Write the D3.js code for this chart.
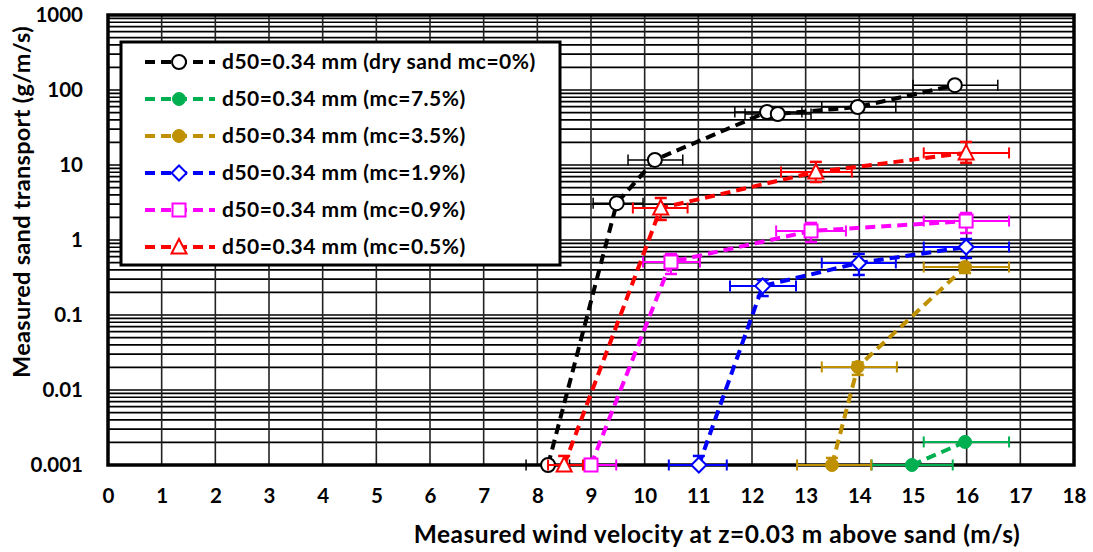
<!DOCTYPE html>
<html>
<head>
<meta charset="utf-8">
<script src="https://cdn.jsdelivr.net/npm/d3@7"></script>
<style>
  html, body { margin: 0; padding: 0; background: #fff; }
  svg { display: block; font-family: Lato, "Open Sans", sans-serif; font-weight: bold; }
</style>
</head>
<body>
<svg id="chart" width="1093" height="552"></svg>
<script>
// Axis ticks
const xTickValues = [0,1,2,3,4,5,6,7,8,9,10,11,12,13,14,15,16,17,18];
const yTickValues = [0.001, 0.01, 0.1, 1, 10, 100, 1000];
const yTickLabels = ["0.001", "0.01", "0.1", "1", "10", "100", "1000"];

// Series names
const seriesNames = [
  "d50=0.34 mm (dry sand mc=0%)",
  "d50=0.34 mm (mc=7.5%)",
  "d50=0.34 mm (mc=3.5%)",
  "d50=0.34 mm (mc=1.9%)",
  "d50=0.34 mm (mc=0.9%)",
  "d50=0.34 mm (mc=0.5%)"
];

// Dry sand, mc = 0%
const dryU    = [8.2, 9.48, 10.19, 12.28, 12.48, 13.97, 15.78];
const dryQ    = [0.001, 3.1, 11.7, 50.9, 47.9, 59.3, 116];
const dryULo  = [7.79, 9.04, 9.69, 11.68, 11.87, 13.3, 15.0];
const dryUHi  = [8.6, 9.97, 10.71, 12.93, 13.1, 14.68, 16.58];
const dryQLo  = [0.001, 3.1, 11.7, 50.9, 47.9, 59.3, 116];
const dryQHi  = [0.001, 3.1, 11.7, 50.9, 47.9, 59.3, 116];

// mc = 7.5%
const mc75U   = [14.98, 15.97];
const mc75Q   = [0.001, 0.00203];
const mc75ULo = [14.23, 15.2];
const mc75UHi = [15.74, 16.79];
const mc75QLo = [0.001, 0.00203];
const mc75QHi = [0.001, 0.00203];

// mc = 3.5%
const mc35U   = [13.49, 13.97, 15.97];
const mc35Q   = [0.001, 0.0203, 0.436];
const mc35ULo = [12.84, 13.3, 15.2];
const mc35UHi = [14.22, 14.7, 16.79];
const mc35QLo = [0.001, 0.0159, 0.363];
const mc35QHi = [0.00124, 0.0233, 0.48];

// mc = 1.9%
const mc19U   = [11.01, 12.2, 13.99, 15.99];
const mc19Q   = [0.001, 0.244, 0.494, 0.807];
const mc19ULo = [10.45, 11.59, 13.3, 15.2];
const mc19UHi = [11.53, 12.82, 14.68, 16.79];
const mc19QLo = [0.001, 0.179, 0.342, 0.576];
const mc19QHi = [0.00132, 0.293, 0.652, 1.03];

// mc = 0.9%
const mc09U   = [9.0, 10.49, 13.1, 15.99];
const mc09Q   = [0.001, 0.509, 1.32, 1.79];
const mc09ULo = [8.53, 9.97, 12.45, 15.2];
const mc09UHi = [9.47, 11.03, 13.75, 16.79];
const mc09QLo = [0.001, 0.352, 0.94, 1.24];
const mc09QHi = [0.0012, 0.65, 1.69, 2.29];

// mc = 0.5%
const mc05U   = [8.5, 10.3, 13.19, 15.99];
const mc05Q   = [0.001, 2.67, 8.07, 14.5];
const mc05ULo = [8.2, 9.78, 12.54, 15.2];
const mc05UHi = [8.85, 10.8, 13.86, 16.79];
const mc05QLo = [0.001, 1.85, 5.93, 10.7];
const mc05QHi = [0.00132, 3.63, 11.0, 20.3];

const xTitle = "Measured wind velocity at z=0.03 m above sand (m/s)";
const yTitle = "Measured sand transport (g/m/s)";

// ---- build series table ----
function pts(u, q, uLo, uHi, qLo, qHi) {
  return u.map((v, i) => ({ u: v, q: q[i], uLo: uLo[i], uHi: uHi[i], qLo: qLo[i], qHi: qHi[i] }));
}
const series = [
  { name: seriesNames[0], color: "#000000", marker: "circleOpen",  errW: 1.5, data: pts(dryU, dryQ, dryULo, dryUHi, dryQLo, dryQHi) },
  { name: seriesNames[1], color: "#00b050", marker: "circleFill",  errW: 2,   data: pts(mc75U, mc75Q, mc75ULo, mc75UHi, mc75QLo, mc75QHi) },
  { name: seriesNames[2], color: "#bf9000", marker: "circleFill",  errW: 2,   data: pts(mc35U, mc35Q, mc35ULo, mc35UHi, mc35QLo, mc35QHi) },
  { name: seriesNames[3], color: "#0000ff", marker: "diamond",     errW: 2,   data: pts(mc19U, mc19Q, mc19ULo, mc19UHi, mc19QLo, mc19QHi) },
  { name: seriesNames[4], color: "#ff00ff", marker: "square",      errW: 2,   data: pts(mc09U, mc09Q, mc09ULo, mc09UHi, mc09QLo, mc09QHi) },
  { name: seriesNames[5], color: "#ff0000", marker: "triangle",    errW: 2,   data: pts(mc05U, mc05Q, mc05ULo, mc05UHi, mc05QLo, mc05QHi) }
];

// ---- layout ----
const plot = { left: 108, right: 1074, top: 15, bottom: 465 };
const svg = d3.select("#chart");

const x = d3.scaleLinear().domain([0, 18]).range([plot.left, plot.right]);
const y = d3.scaleLog().domain([0.001, 1000]).range([plot.bottom, plot.top]);

// ---- grid ----
const grid = svg.append("g");
const minorY = [];
for (let e = -3; e < 3; e++) {
  for (let k = 1; k <= 9; k++) minorY.push(k * Math.pow(10, e));
}
minorY.push(1000);
grid.selectAll("line.h").data(minorY).join("line")
  .attr("x1", plot.left).attr("x2", plot.right)
  .attr("y1", d => y(d)).attr("y2", d => y(d))
  .attr("stroke", "#000").attr("stroke-width", 1.7);
grid.selectAll("line.v").data(xTickValues).join("line")
  .attr("x1", d => x(d)).attr("x2", d => x(d))
  .attr("y1", plot.top).attr("y2", plot.bottom)
  .attr("stroke", "#222").attr("stroke-width", 1.6);

// ---- axes labels ----
const xAxis = d3.axisBottom(x).tickValues(xTickValues).tickFormat(d3.format("d")).tickSize(0).tickPadding(23);
const gx = svg.append("g").attr("transform", `translate(0,${plot.bottom})`).call(xAxis);
gx.select(".domain").remove();
gx.selectAll("text").attr("font-size", 20.5).attr("font-family", "Lato").attr("font-weight", "bold").attr("fill", "#000");

const yAxis = d3.axisLeft(y).tickValues(yTickValues).tickFormat((d, i) => yTickLabels[i]).tickSize(0).tickPadding(25);
const gy = svg.append("g").attr("transform", `translate(${plot.left},0)`).call(yAxis);
gy.select(".domain").remove();
gy.selectAll("text").attr("font-size", 20.5).attr("font-family", "Lato").attr("font-weight", "bold").attr("fill", "#000");

// ---- plot frame ----
svg.append("rect")
  .attr("x", plot.left).attr("y", plot.top)
  .attr("width", plot.right - plot.left).attr("height", plot.bottom - plot.top)
  .attr("fill", "none").attr("stroke", "#000").attr("stroke-width", 3.5);

// ---- markers ----
function drawMarker(g, type, color, cx, cy) {
  const s = g.append("g").attr("transform", `translate(${cx},${cy})`);
  if (type === "circleOpen") {
    s.append("circle").attr("r", 7).attr("fill", "#fff").attr("stroke", color).attr("stroke-width", 2);
  } else if (type === "circleFill") {
    s.append("circle").attr("r", 6.5).attr("fill", color).attr("stroke", color).attr("stroke-width", 1);
  } else if (type === "diamond") {
    s.append("path").attr("d", "M0,-7.5L7.5,0L0,7.5L-7.5,0Z").attr("fill", "#fff").attr("stroke", color).attr("stroke-width", 2);
  } else if (type === "square") {
    s.append("rect").attr("x", -6.5).attr("y", -6.5).attr("width", 13).attr("height", 13)
      .attr("fill", "#fff").attr("stroke", color).attr("stroke-width", 2);
  } else if (type === "triangle") {
    s.append("path").attr("d", "M0,-8L7.5,6.5L-7.5,6.5Z").attr("fill", "#fff").attr("stroke", color).attr("stroke-width", 2);
  }
}

// ---- series ----
const line = d3.line().x(d => x(d.u)).y(d => y(d.q));
const layer = svg.append("g");
series.forEach(s => {
  const g = layer.append("g");
  g.append("path").datum(s.data).attr("d", line)
    .attr("fill", "none").attr("stroke", s.color).attr("stroke-width", 4)
    .attr("stroke-dasharray", "10,6");
  // horizontal error bars
  s.data.forEach(d => {
    const yy = y(d.q);
    g.append("line").attr("x1", x(d.uLo)).attr("x2", x(d.uHi)).attr("y1", yy).attr("y2", yy)
      .attr("stroke", s.color).attr("stroke-width", s.errW);
    [d.uLo, d.uHi].forEach(v => {
      g.append("line").attr("x1", x(v)).attr("x2", x(v)).attr("y1", yy - 5.5).attr("y2", yy + 5.5)
        .attr("stroke", s.color).attr("stroke-width", s.errW);
    });
    // vertical error bars
    if (d.qHi > d.q || d.qLo < d.q) {
      const xx = x(d.u);
      g.append("line").attr("x1", xx).attr("x2", xx).attr("y1", y(d.qLo)).attr("y2", y(d.qHi))
        .attr("stroke", s.color).attr("stroke-width", s.errW);
      if (d.qHi > d.q) g.append("line").attr("x1", xx - 6).attr("x2", xx + 6).attr("y1", y(d.qHi)).attr("y2", y(d.qHi))
        .attr("stroke", s.color).attr("stroke-width", 2.5);
      if (d.qLo < d.q) g.append("line").attr("x1", xx - 6).attr("x2", xx + 6).attr("y1", y(d.qLo)).attr("y2", y(d.qLo))
        .attr("stroke", s.color).attr("stroke-width", 2.5);
    }
  });
  s.data.forEach(d => drawMarker(g, s.marker, s.color, x(d.u), y(d.q)));
});

// ---- legend ----
const leg = { x: 121, y: 42, w: 439, h: 223, rowTop: 62, rowGap: 37 };
const lg = svg.append("g");
lg.append("rect").attr("x", leg.x).attr("y", leg.y).attr("width", leg.w).attr("height", leg.h)
  .attr("fill", "#fff").attr("stroke", "#000").attr("stroke-width", 3);
series.forEach((s, i) => {
  const cy = leg.rowTop + i * leg.rowGap;
  lg.append("line").attr("x1", 145).attr("x2", 215).attr("y1", cy).attr("y2", cy)
    .attr("stroke", s.color).attr("stroke-width", 4).attr("stroke-dasharray", "10,6");
  drawMarker(lg, s.marker, s.color, 179, cy);
  lg.append("text").attr("x", 222).attr("y", cy).attr("dy", "0.35em")
    .attr("font-size", 21).attr("letter-spacing", 0.5).attr("fill", "#000").text(s.name);
});

// ---- axis titles ----
svg.append("text").attr("x", 717).attr("y", 543).attr("text-anchor", "middle")
  .attr("font-size", 24.5).attr("letter-spacing", 0.5).attr("fill", "#000").text(xTitle);
svg.append("text").attr("transform", "translate(30,202) rotate(-90)").attr("text-anchor", "middle")
  .attr("font-size", 23.5).attr("letter-spacing", 0.3).attr("fill", "#000").text(yTitle);
</script>
</body>
</html>
